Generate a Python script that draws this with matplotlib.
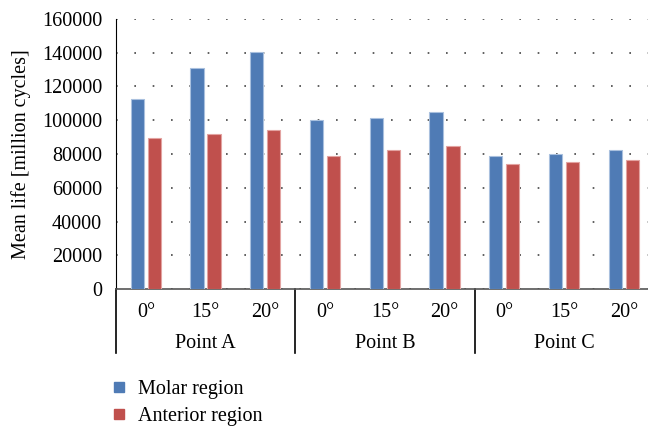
import numpy as np
import matplotlib.pyplot as plt
from matplotlib.lines import Line2D

plt.rcParams['font.family'] = ['Liberation Serif', 'DejaVu Serif']

angles = ['0°', '15°', '20°']
points = ['Point A', 'Point B', 'Point C']
molar = [112400, 130800, 140600, 100100, 101300, 104900, 78800, 80000, 82200]
anterior = [89300, 91700, 94000, 78800, 82200, 84600, 74100, 75300, 76200]
series_names = ['Molar region', 'Anterior region']
colors = ['#4F7BB5', '#C0504D']
edges = ['#A9C0DE', '#E3A3A1']

fig = plt.figure(figsize=(6.48, 4.29), dpi=100)
ax = fig.add_axes([0.179, 0.326, 0.83, 0.63])

x = np.arange(len(molar))
w = 0.22
ax.bar(x - 0.145, molar, w, color=colors[0], edgecolor=edges[0], linewidth=0.8, zorder=3)
ax.bar(x + 0.14, anterior, w, color=colors[1], edgecolor=edges[1], linewidth=0.8, zorder=3)

ax.set_xlim(-0.5, 8.5)
ax.set_ylim(0, 160000)
ax.set_yticks(np.arange(0, 160001, 20000))
ax.yaxis.grid(True, linestyle=(0, (1, 10)), color='#444444', linewidth=1.2)
ax.set_axisbelow(True)
ax.tick_params(axis='y', length=0, labelsize=14.5, pad=10)
ax.tick_params(axis='x', length=0, labelsize=14.5, pad=10)
ax.set_xticks(x)
ax.set_xticklabels(angles * 3)

for s in ['top', 'right']:
    ax.spines[s].set_visible(False)
ax.spines['left'].set_color('black')
ax.spines['bottom'].set_color('#555555')
ax.spines['bottom'].set_linewidth(1.2)

ax.set_ylabel('Mean life [million cycles]', fontsize=14.5, labelpad=8)

# group labels and separators below the axis
for i, name in enumerate(points):
    ax.text(3 * i + 1, -0.2, name, transform=ax.get_xaxis_transform(),
            ha='center', va='center', fontsize=14.5)
for xs in [-0.5, 2.5, 5.5]:
    ax.add_line(Line2D([xs, xs], [0, -0.237], transform=ax.get_xaxis_transform(),
                       color='black', linewidth=1.2, clip_on=False))

handles = [Line2D([], [], marker='s', linestyle='none', markersize=7,
                  markerfacecolor=c, markeredgecolor=c) for c in colors]
fig.legend(handles, series_names, loc='upper left', bbox_to_anchor=(0.155, 0.134),
           frameon=False, fontsize=14.5, handletextpad=0.45, labelspacing=0.4,
           handlelength=1.0, borderaxespad=0)

fig.savefig('out.png', dpi=100)
